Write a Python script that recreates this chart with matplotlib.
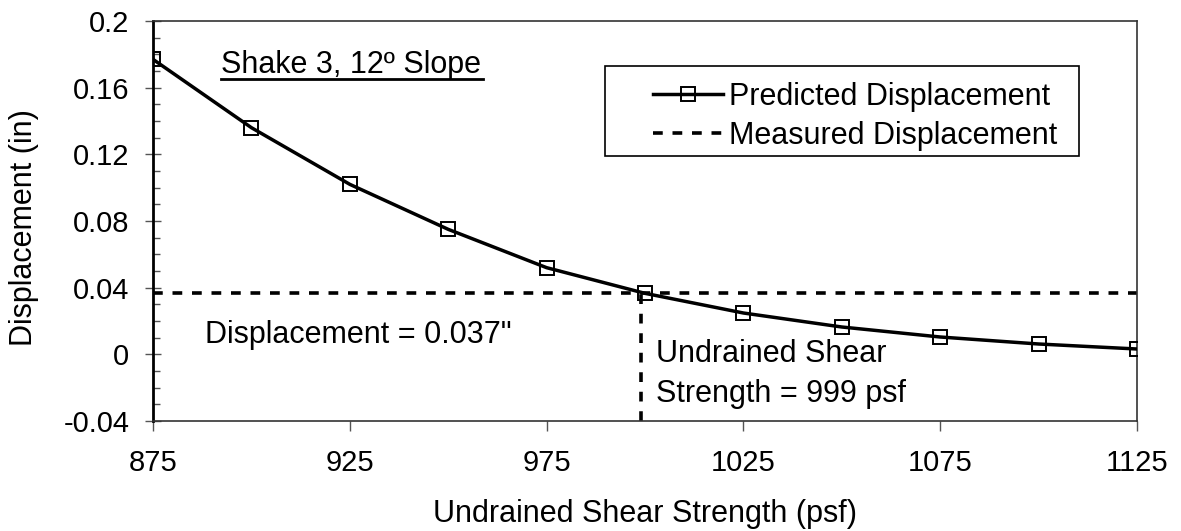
import matplotlib
matplotlib.use("Agg")
import matplotlib.pyplot as plt
from matplotlib.ticker import MultipleLocator
from matplotlib.patches import Rectangle

plt.rcParams['font.family'] = ['Liberation Sans', 'DejaVu Sans']

strength = [875, 900, 925, 950, 975, 1000, 1025, 1050, 1075, 1100, 1125]
predicted = [0.177, 0.136, 0.102, 0.075, 0.052, 0.0366, 0.0248, 0.0164, 0.0104, 0.0062, 0.0032]
measured_disp = 0.037
measured_strength = 999
x_ticks = [875, 925, 975, 1025, 1075, 1125]
y_ticks = [-0.04, 0, 0.04, 0.08, 0.12, 0.16, 0.2]
y_tick_labels = ["-0.04", "0", "0.04", "0.08", "0.12", "0.16", "0.2"]

W, H = 1181, 531
FS = 22
TFS = 21
fig = plt.figure(figsize=(W/100, H/100), dpi=100)
L, R, T, B = 153, 1137, 21, 421
ax = fig.add_axes([L/W, 1 - B/H, (R-L)/W, (B-T)/H])

def fx(px):
    return px / W

def fy(py):
    return 1 - py / H

ax.plot(strength, predicted, color='black', lw=2.5, marker='s', markersize=9.5,
        markerfacecolor='none', markeredgecolor='black', markeredgewidth=1.4,
        label='Predicted Displacement', zorder=3)
dash = (0, (2.7, 2.7))
ax.plot([875, 1125], [measured_disp, measured_disp], color='black', lw=2.6,
        linestyle=dash, label='Measured Displacement', zorder=2)
ax.plot([measured_strength, measured_strength], [-0.04, measured_disp], color='black',
        lw=2.6, linestyle=dash, zorder=2)

ax.set_xlim(875, 1125)
ax.set_ylim(-0.04, 0.2)
ax.set_xticks(x_ticks)
ax.set_xticklabels([str(v) for v in x_ticks])
ax.set_yticks(y_ticks)
ax.set_yticklabels(y_tick_labels)
ax.yaxis.set_minor_locator(MultipleLocator(0.01))

ax.tick_params(axis='y', which='major', direction='inout', length=12, width=1, labelsize=TFS, pad=11, color='#555555')
ax.tick_params(axis='y', which='minor', direction='in', length=5, width=1, color='#555555')
ax.tick_params(axis='x', which='major', direction='out', length=7, width=1, labelsize=TFS, pad=13, color='#555555')

for s in ['top', 'right', 'bottom']:
    ax.spines[s].set_linewidth(1.2)
    ax.spines[s].set_color('#333333')
ax.spines['left'].set_linewidth(2)
ax.spines['left'].set_color('black')

ax.set_xlabel('Undrained Shear Strength (psf)', fontsize=FS)
ax.set_ylabel('Displacement (in)', fontsize=FS)
ax.xaxis.set_label_coords(0.5, (B - 499) / (B - T))
ax.yaxis.set_label_coords((39 - L) / (R - L), (B - 228) / (B - T))

fig.text(fx(221), fy(65), 'Shake 3, 12º Slope', fontsize=FS, ha='left', va='center')
fig.add_artist(plt.Line2D([fx(221), fx(483)], [fy(79), fy(79)], color='black', lw=2))
fig.text(fx(205), fy(335), 'Displacement = 0.037"', fontsize=FS, ha='left', va='center')
fig.text(fx(656), fy(374), 'Undrained Shear\nStrength = 999 psf', fontsize=FS,
         ha='left', va='center', linespacing=1.4)

fig.add_artist(Rectangle((fx(605), fy(156)), fx(1079) - fx(605), fy(66) - fy(156),
                         transform=fig.transFigure, facecolor='white', edgecolor='black',
                         lw=1.2, zorder=4))
leg = fig.legend(loc='upper left', bbox_to_anchor=(fx(653), fy(82)),
                 fontsize=FS, frameon=False, handlelength=2.3, handletextpad=0.2,
                 borderpad=0, labelspacing=0.3, borderaxespad=0)
leg.set_zorder(5)

fig.savefig('out.png', dpi=100)
